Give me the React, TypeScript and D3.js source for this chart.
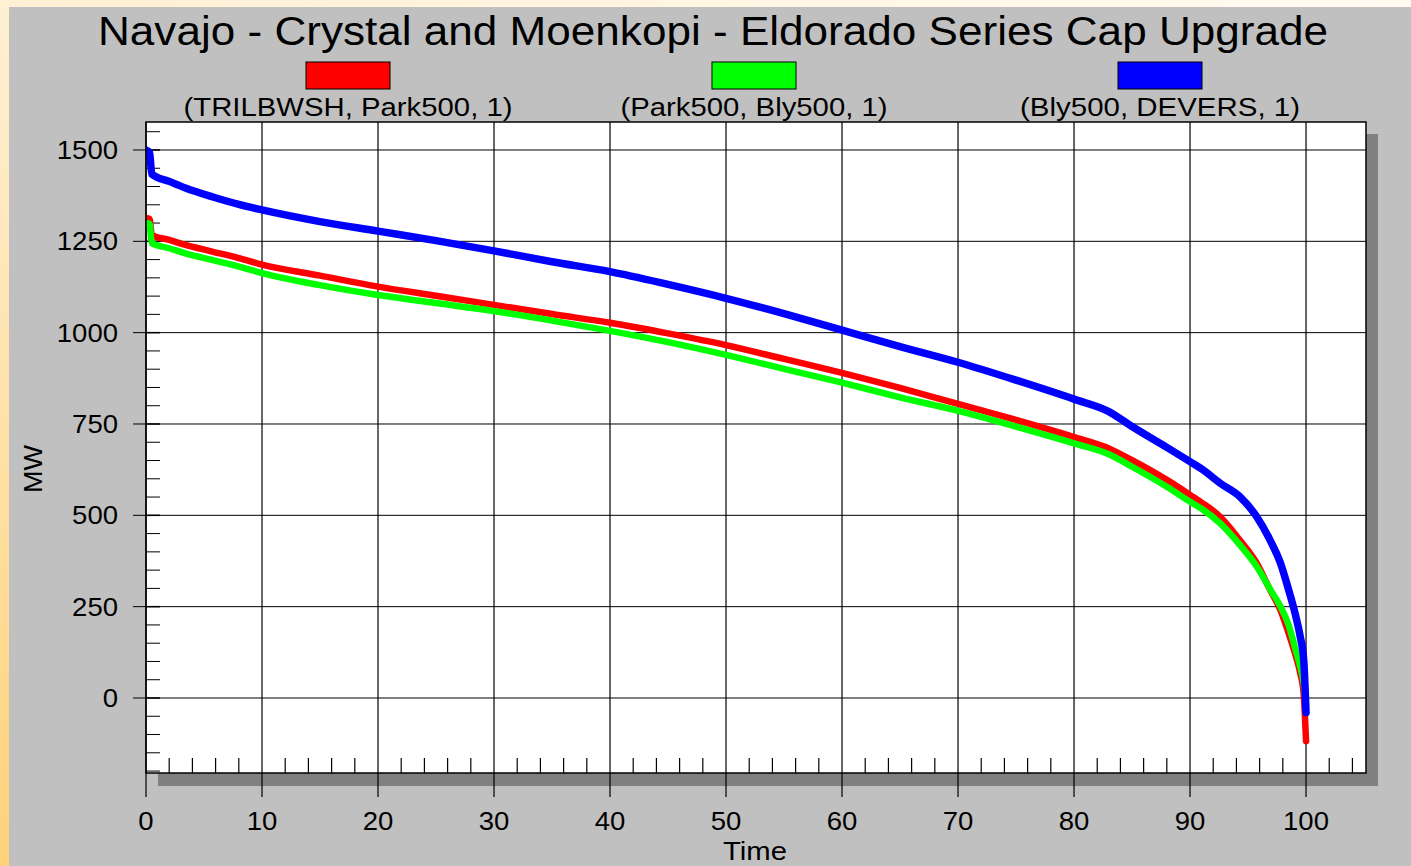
import React from 'react'
import * as d3 from 'd3'

// load duration curve, % of time on x, MW on y
const times = [0, 0.3, 0.5, 2, 3.4, 5.7, 8, 10, 15, 20, 25, 30, 35, 40, 45, 50, 55, 60, 65, 70, 75, 80, 83, 85, 88, 90, 91, 92.6, 94.3, 95.75, 96.9, 97.8, 98.5, 99.05, 99.5, 99.8, 100]
const trilbwshPark = [1314, 1312, 1267, 1254, 1240, 1222, 1204, 1186, 1156, 1126, 1101, 1076, 1051, 1027, 998, 966, 928, 890, 849, 805, 761, 714, 683, 651, 597, 556, 535, 496, 432, 369, 296, 240, 177, 122, 68, 10, -118]
const parkBly = [1300, 1298, 1245, 1231, 1217, 1199, 1181, 1163, 1130, 1103, 1081, 1059, 1033, 1005, 974, 939, 901, 863, 823, 786, 743, 697, 667, 633, 578, 537, 518, 478, 419, 360, 298, 250, 200, 138, 86, 40, -20]
const blyDevers = [1500, 1494, 1434, 1414, 1396, 1372, 1351, 1336, 1304, 1278, 1252, 1224, 1194, 1167, 1132, 1094, 1052, 1007, 962, 919, 870, 818, 784, 743, 686, 647, 627, 588, 551, 496, 432, 369, 296, 232, 168, 104, -40]

const seriesNames = ['(TRILBWSH, Park500, 1)', '(Park500, Bly500, 1)', '(Bly500, DEVERS, 1)']
const seriesColors = ['#ff0000', '#00ff00', '#0000ff']
const seriesValues = [trilbwshPark, parkBly, blyDevers]

const yTicks = [0, 250, 500, 750, 1000, 1250, 1500]
const xTicks = [0, 10, 20, 30, 40, 50, 60, 70, 80, 90, 100]

const W = 1411
const H = 866
const font = '"Liberation Sans", Arial, sans-serif'
// the source renders its text wider than Arial, so each label is stretched to its width
const digitW = 15.3

export default function App() {
  const left = 146, right = 1366, top = 122, bottom = 773
  const x = d3.scaleLinear().domain([0, 105.17]).range([left, right])
  const y = d3.scaleLinear().domain([-205.3, 1576.6]).range([bottom, top])

  const line = d3.line<number>()
    .x((d, i) => x(times[i]))
    .y(d => y(d))
    .curve(d3.curveMonotoneX)

  const minorY = d3.range(-200, 1576, 50).filter(v => v % 250 !== 0)
  const minorX = d3.range(2, 105, 2).filter(v => v % 10 !== 0)
  const legendX = [348, 754, 1160]
  const legendW = [329, 267, 280]

  return (
    <svg width={W} height={H} style={{ position: 'absolute', left: 0, top: 0 }} fontFamily={font}>
      <defs>
        <linearGradient id="bg" x1="1" y1="0" x2="0" y2="1">
          <stop offset="0" stopColor="#fffbf2" />
          <stop offset="0.5" stopColor="#fff0d4" />
          <stop offset="1" stopColor="#ffd27a" />
        </linearGradient>
        <clipPath id="plot">
          <rect x={left} y={top} width={right - left} height={bottom - top} />
        </clipPath>
      </defs>
      <rect width={W} height={H} fill="url(#bg)" />
      <rect x={9} y={7} width={W - 9} height={H - 7} fill="#c0c0c0" />

      <text x={713} y={45} textAnchor="middle" fontSize={40} textLength={1230} lengthAdjust="spacingAndGlyphs">
        Navajo - Crystal and Moenkopi - Eldorado Series Cap Upgrade
      </text>

      {seriesNames.map((name, i) => (
        <g key={name}>
          <rect x={legendX[i] - 42} y={62} width={84} height={27} fill={seriesColors[i]} stroke="#000" strokeWidth={1} />
          <text x={legendX[i]} y={116} textAnchor="middle" fontSize={26}
            textLength={legendW[i]} lengthAdjust="spacingAndGlyphs">{name}</text>
        </g>
      ))}

      {/* drop shadow + plot frame */}
      <rect x={left + 12} y={top + 12} width={right - left} height={bottom - top + 1} fill="#808080" />
      <rect x={left} y={top} width={right - left} height={bottom - top} fill="#fff" />

      {yTicks.map(v => (
        <line key={'gy' + v} x1={left - 13} x2={right} y1={y(v)} y2={y(v)} stroke="#000" strokeWidth={1} />
      ))}
      {xTicks.map(v => (
        <line key={'gx' + v} x1={x(v)} x2={x(v)} y1={top} y2={bottom + 24} stroke="#000" strokeWidth={1.2} />
      ))}
      {minorY.map(v => (
        <line key={'my' + v} x1={left} x2={left + 14} y1={y(v)} y2={y(v)} stroke="#000" strokeWidth={1} />
      ))}
      {minorX.map(v => (
        <line key={'mx' + v} x1={x(v)} x2={x(v)} y1={bottom - 15} y2={bottom} stroke="#000" strokeWidth={1.2} />
      ))}
      {yTicks.map(v => (
        <line key={'ty' + v} x1={left} x2={left + 14} y1={y(v)} y2={y(v)} stroke="#000" strokeWidth={1.5} />
      ))}

      <g clipPath="url(#plot)">
        {seriesValues.map((vals, i) => (
          <path key={i} d={line(vals) ?? ''} fill="none" stroke={seriesColors[i]}
            strokeWidth={i === 2 ? 7.5 : 6.5} strokeLinejoin="round" strokeLinecap="round" />
        ))}
      </g>

      <rect x={left} y={top} width={right - left} height={bottom - top} fill="none" stroke="#000" strokeWidth={1.5} />

      {yTicks.map(v => (
        <text key={'ly' + v} x={118} y={y(v) + 9} textAnchor="end" fontSize={25}
          textLength={String(v).length * digitW} lengthAdjust="spacingAndGlyphs">{v}</text>
      ))}
      {xTicks.map(v => (
        <text key={'lx' + v} x={x(v)} y={830} textAnchor="middle" fontSize={25}
          textLength={String(v).length * digitW} lengthAdjust="spacingAndGlyphs">{v}</text>
      ))}
      <text x={755} y={860} textAnchor="middle" fontSize={25} textLength={64} lengthAdjust="spacingAndGlyphs">Time</text>
      <text transform="translate(42,469) rotate(-90)" textAnchor="middle" fontSize={25}
        textLength={48} lengthAdjust="spacingAndGlyphs">MW</text>
    </svg>
  )
}
